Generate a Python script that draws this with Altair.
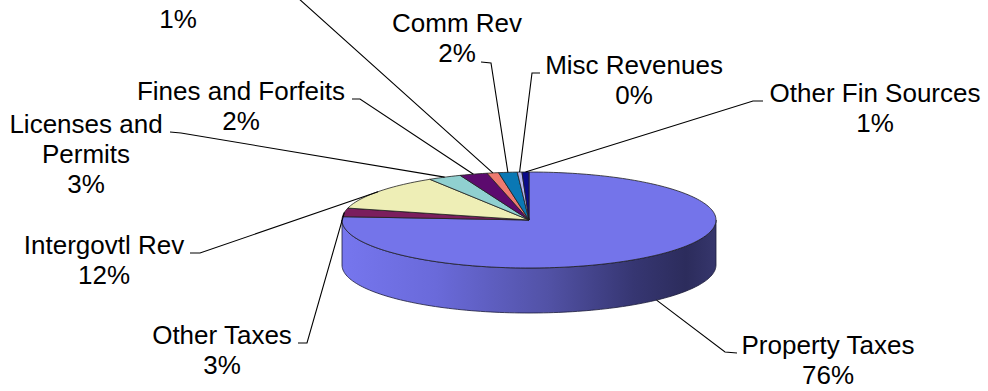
import altair as alt
import numpy as np
import pandas as pd

# ---------------- data ----------------
categories = ["Property Taxes", "Other Taxes", "Intergovtl Rev", "Licenses and Permits",
              "Fines and Forfeits", "Interest", "Comm Rev", "Misc Revenues", "Other Fin Sources"]
values = [76.1, 2.9, 12.1, 2.9, 2.4, 1.0, 1.6, 0.4, 0.6]
colors = ["#7474EA", "#7B1E5E", "#EEEEB6", "#90D0D0", "#5C0A6E",
          "#EE7A70", "#0A78B4", "#B4B4EE", "#0A0A8A"]

# ---------------- layout (pixels) ----------------
W, H = 988, 391
CX, CY, RX, RY, DEPTH = 529, 220, 187, 48, 45
FONT, FS, LH = "Liberation Sans", 26, 30

name_lines = {"Licenses and Permits": ["Licenses and", "Permits"]}
label_layout = {
    "Property Taxes":       dict(x=828, y=354, elbow=(725, 352), end=(737, 353)),
    "Other Taxes":          dict(x=222, y=344, elbow=(307, 343), end=(298, 343)),
    "Intergovtl Rev":       dict(x=104, y=254, elbow=(200, 253), end=(190, 253)),
    "Licenses and Permits": dict(x=86,  y=133, elbow=(181, 133), end=(170, 132)),
    "Fines and Forfeits":   dict(x=241, y=100, elbow=(360, 99),  end=(352, 99)),
    "Interest":             dict(x=178, y=-8,  elbow=(288, -11), end=(278, -11)),
    "Comm Rev":             dict(x=457, y=32,  elbow=(491, 63),  end=(481, 62)),
    "Misc Revenues":        dict(x=634, y=74,  elbow=(532, 73),  end=(540, 73)),
    "Other Fin Sources":    dict(x=875, y=102, elbow=(753, 101), end=(763, 101)),
}
pct_offset = {"Interest": 36}

# ---------------- geometry built from the values ----------------
vals = np.array(values, dtype=float)
ends = np.cumsum(vals) / vals.sum() * 360.0
starts = ends - vals / vals.sum() * 360.0


def top_pt(a_deg):
    a = np.radians(a_deg)
    return CX + RX * np.sin(a), CY - RY * np.cos(a)


slice_rows, side_rows, leader_rows, text_rows = [], [], [], []
for k, (cat, s, e, v) in enumerate(zip(categories, starts, ends, values)):
    n = max(3, int(np.ceil((e - s) / 1.5)) + 1)
    angs = np.linspace(s, e, n)
    pts = [(CX, CY)] + [top_pt(a) for a in angs] + [(CX, CY)]
    for i, (x, y) in enumerate(pts):
        slice_rows.append(dict(cat=cat, i=i, x=x, y=y))

    # visible front wall (angles between 90 and 270 degrees)
    fs, fe = max(s, 90.0), min(e, 270.0)
    if fe > fs:
        fa = np.linspace(fs, fe, max(3, int(np.ceil((fe - fs) / 1.5)) + 1))
        wall = [top_pt(a) for a in fa] + [(top_pt(a)[0], top_pt(a)[1] + DEPTH) for a in fa[::-1]]
        wall.append(wall[0])
        for i, (x, y) in enumerate(wall):
            side_rows.append(dict(cat=cat, i=i, x=x, y=y))

    # leader line: slice mid-angle -> elbow -> label
    mid = (s + e) / 2.0
    ax, ay = top_pt(mid)
    if 90.0 < mid < 270.0:
        ay += DEPTH
    lay = label_layout[cat]
    for i, (x, y) in enumerate([(ax, ay), lay["elbow"], lay["end"]]):
        leader_rows.append(dict(cat=cat, i=i, x=x, y=y))

    names = name_lines.get(cat, [cat])
    for j, t in enumerate(names):
        text_rows.append(dict(cat=cat, x=lay["x"], y=lay["y"] + j * LH, t=t))
    py = lay["y"] + pct_offset.get(cat, len(names) * LH)
    text_rows.append(dict(cat=cat, x=lay["x"], y=py, t=f"{round(v):.0f}%"))

slices = pd.DataFrame(slice_rows)
side = pd.DataFrame(side_rows)
leaders = pd.DataFrame(leader_rows)
texts = pd.DataFrame(text_rows)

xs = alt.Scale(domain=[0, W], nice=False, zero=False)
ys = alt.Scale(domain=[0, H], nice=False, zero=False, reverse=True)
X = alt.X("x:Q", scale=xs, axis=None)
Y = alt.Y("y:Q", scale=ys, axis=None)

side_grad = alt.Gradient(
    gradient="linear", x1=0, x2=1, y1=0, y2=0,
    stops=[alt.GradientStop(color="#7676EE", offset=0),
           alt.GradientStop(color="#6A6ADA", offset=0.25),
           alt.GradientStop(color="#5252A6", offset=0.55),
           alt.GradientStop(color="#363672", offset=0.78),
           alt.GradientStop(color="#2C2C5C", offset=0.92),
           alt.GradientStop(color="#36366C", offset=1)])

side_layer = alt.Chart(side).mark_line(
    filled=True, fill=side_grad, stroke="#1c1c3a", strokeWidth=0.8, strokeJoin="round"
).encode(x=X, y=Y, detail="cat:N", order=alt.Order("i:Q"))

top_layer = alt.Chart(slices).mark_line(
    filled=True, stroke="#202020", strokeWidth=0.8, strokeJoin="round"
).encode(
    x=X, y=Y, order=alt.Order("i:Q"),
    color=alt.Color("cat:N", scale=alt.Scale(domain=categories, range=colors), legend=None),
)

leader_layer = alt.Chart(leaders).mark_line(color="black", strokeWidth=1.1, clip=True).encode(
    x=X, y=Y, detail="cat:N", order=alt.Order("i:Q"))

text_layer = alt.Chart(texts).mark_text(
    font=FONT, fontSize=FS, align="center", baseline="alphabetic", color="black"
).encode(x=X, y=Y, text="t:N")

chart = alt.layer(side_layer, top_layer, leader_layer, text_layer).properties(
    width=W, height=H, padding=0,
    autosize=alt.AutoSizeParams(type="none"),
    background="white",
).configure_view(stroke="transparent")

chart.save("out.html", embed_options={"renderer": "svg", "actions": False})
